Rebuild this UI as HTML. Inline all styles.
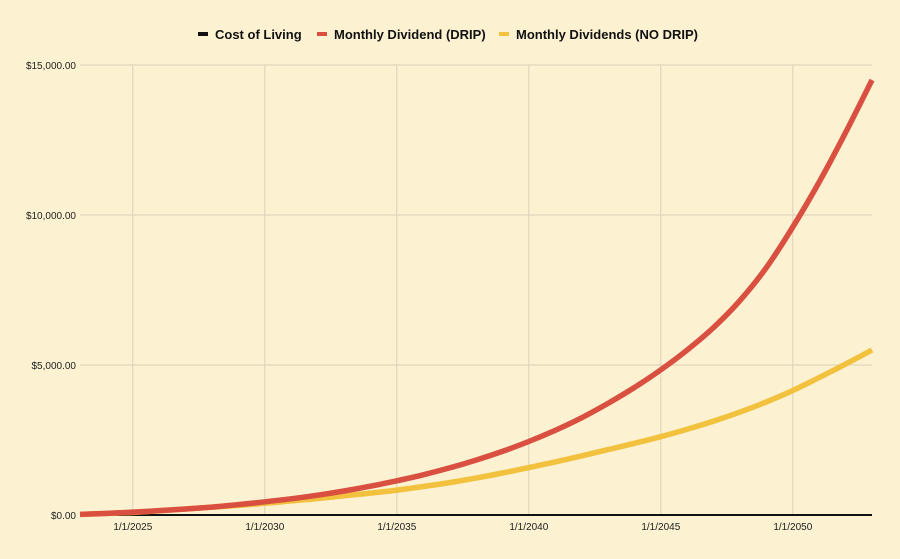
<!DOCTYPE html>
<html><head><meta charset="utf-8"><style>
html,body{margin:0;padding:0;background:#fcf2d2;}
svg{display:block;font-family:"Liberation Sans",Arial,sans-serif;}
</style></head><body>
<svg id="chart" width="900" height="559"></svg>
<script>
const years=[2023,2024,2025,2026,2027,2028,2029,2030,2031,2032,2033,2034,2035,2036,2037,2038,2039,2040,2041,2042,2043,2044,2045,2046,2047,2048,2049,2050,2051,2052,2053];
const drip=[20,55,95,145,200,265,345,440,540,660,800,960,1140,1340,1570,1830,2120,2450,2820,3240,3720,4250,4840,5500,6250,7150,8250,9600,11100,12750,14500];
const noDrip=[20,50,85,140,200,260,320,390,470,550,640,730,830,950,1080,1230,1400,1580,1770,1970,2180,2390,2610,2860,3130,3430,3770,4150,4580,5030,5500];
const costOfLiving=[0,0,0,0,0,0,0,0,0,0,0,0,0,0,0,0,0,0,0,0,0,0,0,0,0,0,0,0,0,0,0];
const yTicks=[0,5000,10000,15000];
const yTickLabels=["$0.00","$5,000.00","$10,000.00","$15,000.00"];
const xTicks=[2025,2030,2035,2040,2045,2050];
const xTickLabels=["1/1/2025","1/1/2030","1/1/2035","1/1/2040","1/1/2045","1/1/2050"];
const NS="http://www.w3.org/2000/svg";
const svg=document.getElementById('chart');
const X0=80,X1=872,Y0=515,Y1=65;
const xs=v=>X0+(v-2023)/(2053-2023)*(X1-X0);
const ys=v=>Y0-v/15000*(Y0-Y1);
function mk(t,a){const e=document.createElementNS(NS,t);for(const k in a)e.setAttribute(k,a[k]);svg.appendChild(e);return e;}
yTicks.forEach((v,i)=>{
 const g=mk('line',{x1:X0,x2:X1,y1:ys(v),y2:ys(v),stroke:'#d9d0b8','stroke-width':1});
 
 
 const t=mk('text',{x:X0-4,y:ys(v)+4,'text-anchor':'end','font-size':10,fill:'#222'});
 t.textContent=yTickLabels[i];
 
 
});
xTicks.forEach((v,i)=>{
 const g=mk('line',{x1:xs(v),x2:xs(v),y1:Y1,y2:Y0,stroke:'#d9d0b8','stroke-width':1});
 
 
 const t=mk('text',{x:xs(v),y:Y0+15,'text-anchor':'middle','font-size':10,fill:'#222'});
 t.textContent=xTickLabels[i];
 
 
});
function series(vals,color,w,name){
 const P=vals.map((v,i)=>[xs(years[i]),ys(v)]);
 let d='M'+P[0][0].toFixed(1)+','+P[0][1].toFixed(1);
 for(let i=0;i<P.length-1;i++){
  const p0=P[Math.max(0,i-1)],p1=P[i],p2=P[i+1],p3=P[Math.min(P.length-1,i+2)];
  const c1=[p1[0]+(p2[0]-p0[0])/6,p1[1]+(p2[1]-p0[1])/6];
  const c2=[p2[0]-(p3[0]-p1[0])/6,p2[1]-(p3[1]-p1[1])/6];
  d+='C'+c1.map(n=>n.toFixed(1)).join(',')+' '+c2.map(n=>n.toFixed(1)).join(',')+' '+p2.map(n=>n.toFixed(1)).join(',');
 }
 const p=mk('path',{d:d,fill:'none',stroke:color,'stroke-width':w,'stroke-linejoin':'round'});
 
 
}
series(costOfLiving,'#111',2,'cost-of-living-line');
series(noDrip,'#f2c13e',5.5,'no-drip-line');
series(drip,'#d95040',5.5,'drip-line');
const legend=[["Cost of Living","#111",198],["Monthly Dividend (DRIP)","#d95040",317],["Monthly Dividends (NO DRIP)","#f2c13e",499]];
legend.forEach(l=>{
 const r=mk('rect',{x:l[2],y:32,width:10,height:4,fill:l[1]});
 
 
 const t=mk('text',{x:l[2]+17,y:39,'font-size':13,'font-weight':'bold',fill:'#111'});
 t.textContent=l[0];
 
 
});
</script>
</body></html>
